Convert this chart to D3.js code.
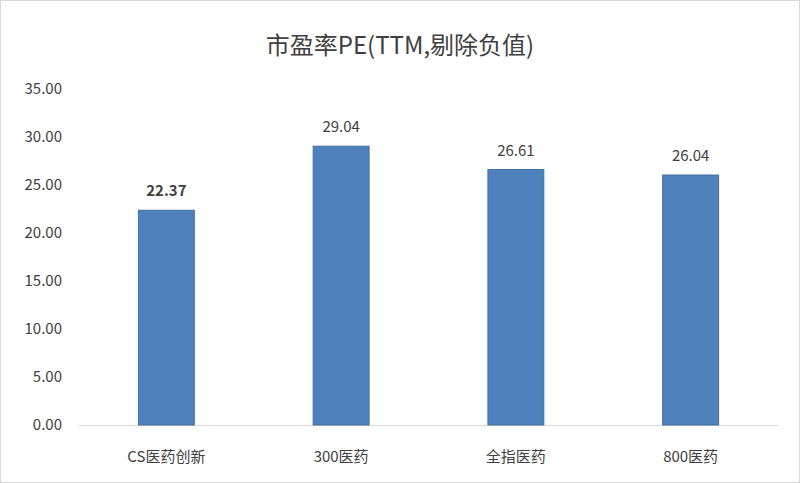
<!DOCTYPE html>
<html><head><meta charset="utf-8">
<script src="https://cdn.jsdelivr.net/npm/d3@7"></script>
<style>body{margin:0;background:#fff}text{font-family:"Noto Sans CJK SC","Noto Sans",sans-serif}</style>
</head><body>
<svg id="c" width="800" height="483"></svg>
<script>
var categories = ["CS医药创新", "300医药", "全指医药", "800医药"]
var values = [22.37, 29.04, 26.61, 26.04]
var yTicks = [0, 5, 10, 15, 20, 25, 30, 35]

var svg = d3.select("#c")
svg.append("rect").attr("x",0.5).attr("y",0.5).attr("width",799).attr("height",482)
    .attr("fill","#fff").attr("stroke","#d9d9d9")

var x = d3.scaleBand().domain(categories).range([79, 778]).paddingInner(0.68).paddingOuter(0.34)
var y = d3.scaleLinear().domain([0, 35]).range([425, 89])

svg.append("text").attr("x",400).attr("y",54).attr("text-anchor","middle")
    .attr("font-size",24).attr("fill","#404040").text("市盈率PE(TTM,剔除负值)")

svg.selectAll(".yl").data(yTicks).enter().append("text")
    .attr("x",62).attr("y",function(d){return y(d)+5}).attr("text-anchor","end")
    .attr("font-size",15).attr("fill","#404040").text(function(d){return d.toFixed(2)})

svg.append("line").attr("x1",79).attr("x2",778).attr("y1",425.5).attr("y2",425.5).attr("stroke","#d9d9d9")

svg.selectAll(".bar").data(values).enter().append("rect")
    .attr("x",function(d,i){return x(categories[i])}).attr("width",x.bandwidth())
    .attr("y",function(d){return y(d)}).attr("height",function(d){return y(0)-y(d)})
    .attr("fill","#4f81bd").attr("stroke","#41719c")

svg.selectAll(".vl").data(values).enter().append("text")
    .attr("x",function(d,i){return x(categories[i])+x.bandwidth()/2})
    .attr("y",function(d){return y(d)-14}).attr("text-anchor","middle")
    .attr("font-size",15).attr("fill","#404040")
    .attr("font-weight",function(d,i){return i==0?"bold":"normal"})
    .text(function(d){return d.toFixed(2)})

svg.selectAll(".xl").data(categories).enter().append("text")
    .attr("x",function(d){return x(d)+x.bandwidth()/2}).attr("y",462)
    .attr("text-anchor","middle").attr("font-size",15).attr("fill","#404040").text(function(d){return d})
</script>
</body></html>
